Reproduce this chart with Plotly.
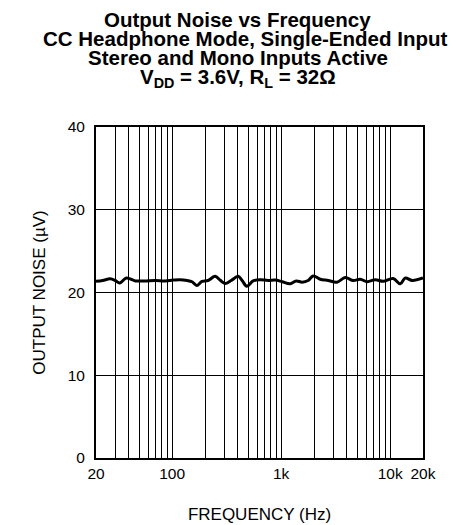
import plotly.graph_objects as go

# Output noise vs frequency
freq_hz = [20, 23, 27, 30, 33, 38, 46, 56, 70, 86, 102, 118, 137, 152, 168, 188,
           213, 248, 275, 306, 347, 403, 438, 484, 553, 641, 759, 881, 1021, 1208,
           1374, 1558, 1767, 1967, 2281, 2700, 3244, 3870, 4580, 5310, 6165, 7300,
           8630, 10660, 12380, 13750, 15950, 20000]
noise_uv = [21.35, 21.45, 21.65, 21.45, 21.15, 21.75, 21.4, 21.4, 21.45, 21.4, 21.5,
            21.55, 21.45, 21.3, 20.85, 21.35, 21.45, 21.95, 21.5, 21.1, 21.45, 21.95,
            21.45, 20.75, 21.4, 21.55, 21.45, 21.5, 21.3, 21.05, 21.4, 21.25, 21.45,
            22.0, 21.6, 21.45, 21.25, 21.8, 21.45, 21.6, 21.3, 21.55, 21.35, 21.7,
            21.05, 21.75, 21.45, 21.75]

x_ticks = [20, 100, 1000, 10000, 20000]
x_ticktext = ["20", "100", "1k", "10k", "20k"]
x_minor = [30, 40, 50, 60, 70, 80, 90, 200, 300, 400, 500, 600, 700, 800, 900,
           2000, 3000, 4000, 5000, 6000, 7000, 8000, 9000]
y_ticks = [0, 10, 20, 30, 40]

title_lines = ["Output Noise vs Frequency",
               "CC Headphone Mode, Single-Ended Input",
               "Stereo and Mono Inputs Active",
               "V<sub>DD</sub> = 3.6V, R<sub>L</sub> = 32Ω"]

# plot area in figure pixels
L, T, W, H = 88, 119, 326.7, 338.6

fig = go.Figure()
fig.add_trace(go.Scatter(x=freq_hz, y=noise_uv, mode="lines",
                         line=dict(color="black", width=3, shape="spline"),
                         showlegend=False))

# title drawn line by line so the tight line spacing matches
title_x = [229, 237, 230, 230]
title_y = [9, 28.5, 48, 69]
for line, tx, ty in zip(title_lines, title_x, title_y):
    fig.add_annotation(text="<b>" + line + "</b>", xref="paper", yref="paper",
                       x=(tx - L) / W, y=(T + H - ty) / H,
                       xanchor="center", yanchor="middle", showarrow=False,
                       font=dict(size=20.5, color="black"))

fig.update_layout(
    width=456, height=525,
    paper_bgcolor="white", plot_bgcolor="white",
    font=dict(family="Liberation Sans, Arial, sans-serif", color="black", size=15.5),
    margin=dict(l=L, r=456 - L - W, t=T, b=525 - T - H),
)

fig.update_xaxes(
    type="log", range=[1.30103, 4.30103],
    tickvals=x_ticks, ticktext=x_ticktext,
    showgrid=True, gridcolor="black", gridwidth=1,
    minor=dict(tickvals=x_minor, showgrid=True, gridcolor="black", gridwidth=1, ticks=""),
    showline=True, linecolor="black", linewidth=2, mirror=True,
    ticks="", tickfont=dict(size=15.5), ticklabelstandoff=0,
    title=dict(text="FREQUENCY (Hz)", font=dict(size=17), standoff=28),
    zeroline=False,
)
fig.update_yaxes(
    range=[0, 40], tickvals=y_ticks,
    showgrid=True, gridcolor="black", gridwidth=1,
    showline=True, linecolor="black", linewidth=2, mirror=True,
    ticks="", tickfont=dict(size=15.5), ticklabelstandoff=6,
    title=dict(text="OUTPUT NOISE (µV)", font=dict(size=17), standoff=18),
    zeroline=False,
)

fig.write_html("out.html")
